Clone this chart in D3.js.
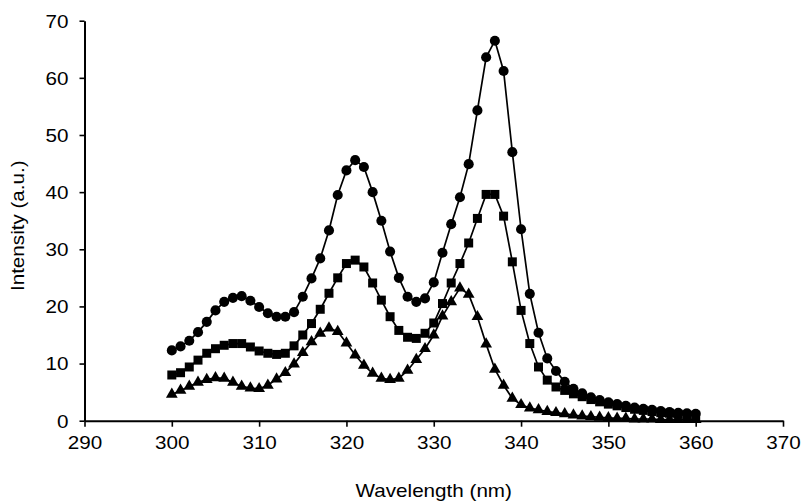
<!DOCTYPE html>
<html><head><meta charset="utf-8">
<script src="https://cdn.jsdelivr.net/npm/d3@7"></script>
<style>
html,body{margin:0;padding:0;background:#fff;}
svg{display:block;}
text{font-family:"Liberation Sans",Arial,sans-serif;fill:#000;}
</style></head>
<body><svg id="c" width="802" height="502"></svg>
<script>
const wavelengths = d3.range(300, 361, 1);
const seriesCircle = [12.3,13.0,14.0,15.5,17.3,19.3,20.8,21.5,21.8,21.0,19.9,18.8,18.2,18.2,19.0,21.7,24.9,28.4,33.3,39.5,43.8,45.6,44.4,40.0,35.0,29.6,25.0,21.7,20.8,21.4,24.2,29.4,34.4,39.1,44.9,54.3,63.6,66.5,61.2,47.0,33.5,22.2,15.4,10.9,8.7,6.8,5.6,4.8,4.1,3.6,3.2,2.9,2.6,2.3,2.1,1.9,1.7,1.5,1.4,1.3,1.2];
const seriesSquare = [8.0,8.4,9.4,10.6,11.8,12.6,13.2,13.5,13.5,12.9,12.2,11.8,11.6,11.8,13.1,15.0,17.0,19.5,22.3,25.0,27.5,28.1,26.9,24.1,21.1,18.2,15.8,14.6,14.4,15.3,17.1,20.5,24.1,27.5,31.1,35.4,39.6,39.6,35.8,27.8,19.3,13.5,9.4,7.1,5.9,5.3,4.7,4.2,3.7,3.3,2.9,2.6,2.3,2.0,1.8,1.6,1.4,1.3,1.1,1.0,0.9];
const seriesTriangle = [4.6,5.3,6.0,6.7,7.2,7.5,7.4,6.7,6.0,5.7,5.6,6.2,7.3,8.4,9.9,11.9,13.8,15.3,16.2,15.6,13.6,11.5,9.7,8.3,7.4,7.2,7.4,8.8,10.7,12.6,15.0,18.3,20.8,23.2,22.1,18.2,13.4,9.0,6.2,3.9,2.8,2.2,1.9,1.6,1.4,1.2,1.0,0.8,0.7,0.6,0.5,0.4,0.4,0.3,0.3,0.3,0.2,0.2,0.2,0.2,0.2];
const xTicks = [290,300,310,320,330,340,350,360,370];
const yTicks = [0,10,20,30,40,50,60,70];
const xTitle = "Wavelength  (nm)";
const yTitle = "Intensity (a.u.)";

const svg = d3.select("#c");
const x = d3.scaleLinear().domain([290,370]).range([84.5,783]);
const y = d3.scaleLinear().domain([0,70]).range([420.7,20.7]);
const SX = 1.18;

const gx = svg.append("g").attr("transform",`translate(0,${y(0)})`)
  .call(d3.axisBottom(x).tickValues(xTicks).tickSize(6).tickSizeOuter(0).tickFormat(d3.format("d")));
const gy = svg.append("g").attr("transform",`translate(${x(290)},0)`)
  .call(d3.axisLeft(y).tickValues(yTicks).tickSize(5).tickSizeOuter(0).tickFormat(d3.format("d")));
[gx,gy].forEach(g=>{
  g.select(".domain").attr("stroke","#000").attr("stroke-width",2);
  g.selectAll(".tick line").attr("stroke","#000").attr("stroke-width",1.6);
  g.selectAll(".tick text").attr("font-size",17.5).attr("font-family","Liberation Sans, Arial, sans-serif").attr("fill","#000");
});
gx.selectAll(".tick text").attr("y",0).attr("dy",0).attr("transform",`translate(0,28) scale(${SX},1)`);
gy.selectAll(".tick text").attr("x",0).attr("dy","0.36em").attr("transform",`translate(-16,0) scale(${SX},1)`);

svg.append("text").attr("text-anchor","middle").attr("font-size",17.5)
  .attr("transform",`translate(${(x(290)+x(370))/2},497) scale(${SX},1)`).text(xTitle);
svg.append("text").attr("text-anchor","middle").attr("font-size",17.5)
  .attr("transform",`translate(24,${(y(0)+y(70))/2+5}) rotate(-90) scale(${SX},1)`).text(yTitle);

const line = d3.line().x((d,i)=>x(wavelengths[i])).y(d=>y(d));
const series = [
  {v:seriesSquare, sym:d3.symbolSquare, size:81},
  {v:seriesTriangle, sym:d3.symbolTriangle, size:60},
  {v:seriesCircle, sym:d3.symbolCircle, size:80}
];
const plot = svg.append("g");
series.forEach(s=>{
  plot.append("path").datum(s.v).attr("d",line).attr("fill","none").attr("stroke","#000").attr("stroke-width",1.7);
});
series.forEach(s=>{
  const sym = d3.symbol().type(s.sym).size(s.size);
  plot.append("g").selectAll("path").data(s.v).join("path")
    .attr("d",sym).attr("fill","#000")
    .attr("transform",(d,i)=>`translate(${x(wavelengths[i])},${y(d)})`);
});
</script></body></html>
